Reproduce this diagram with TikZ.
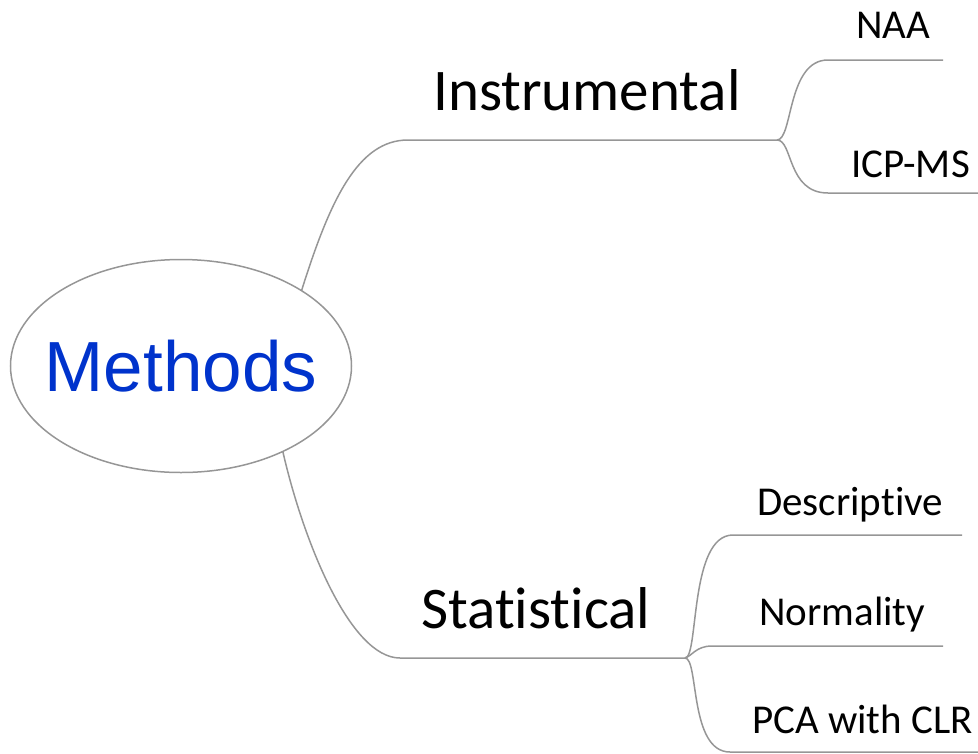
\documentclass[tikz,border=0pt]{standalone}
\usepackage{fontspec}
\setmainfont{Carlito}[Ligatures=NoCommon]
\newfontfamily\arialfont{Liberation Sans}
\usetikzlibrary{shapes.geometric}
\definecolor{methblue}{RGB}{0,51,204}
\definecolor{linegray}{RGB}{150,150,150}
\begin{document}
\begin{tikzpicture}[x=1pt,y=-1pt,
  conn/.style={draw=linegray,line width=1.5pt},
  lbl/.style={anchor=base west,inner sep=0pt,font=\fontsize{41}{41}\selectfont},
  biglbl/.style={anchor=base west,inner sep=0pt,font=\fontsize{59}{59}\selectfont},
  root/.style={ellipse,draw=linegray,line width=1.5pt,minimum width=341pt,minimum height=213pt,inner sep=0pt,outer sep=0pt}]
\useasboundingbox (0,0) rectangle (978,753);
% root
\node[root] (m) at (181,366) {};
\node[inner sep=0pt,text=methblue,font=\arialfont\fontsize{71}{71}\selectfont] (mt) at (m.center) {Methods};
% labels
\node[biglbl] (ins) at (433,110) {Instrumental};
\node[biglbl] (sta) at (421,628) {Statistical};
\node[lbl] (naa) at (856,38) {NAA};
\node[lbl] (icp) at (851,177) {ICP-MS};
\node[lbl] (des) at (757,515) {Descriptive};
\node[lbl] (nor) at (759,625) {Normality};
\node[lbl] (pca) at (752,733) {PCA with CLR};
% junction coordinates
\coordinate (ie) at (408,140);
\coordinate (ij) at (777,140);
\coordinate (naas) at (828,60);
\coordinate (naae) at (943,60);
\coordinate (icps) at (828,193);
\coordinate (icpe) at (978,193);
\coordinate (se) at (400,658);
\coordinate (sj) at (685,658);
\coordinate (dess) at (733,535);
\coordinate (dese) at (962,535);
\coordinate (nors) at (712,646);
\coordinate (nore) at (943,646);
\coordinate (pcas) at (730,752);
\coordinate (pcae) at (978,752);
% connectors
\draw[conn] (m.32) .. controls (330,200) and (358,140) .. (ie) -- (ij);
\draw[conn] (ij) .. controls (793,140) and (787,60) .. (naas) -- (naae);
\draw[conn] (ij) .. controls (793,140) and (787,193) .. (icps) -- (icpe);
\draw[conn] (m.-40.5) .. controls (303,540) and (350,658) .. (se) -- (sj);
\draw[conn] (sj) .. controls (699,658) and (689,535) .. (dess) -- (dese);
\draw[conn] (sj) .. controls (692,656) and (696,646) .. (nors) -- (nore);
\draw[conn] (sj) .. controls (699,658) and (689,752) .. (pcas) -- (pcae);
\end{tikzpicture}
\end{document}
